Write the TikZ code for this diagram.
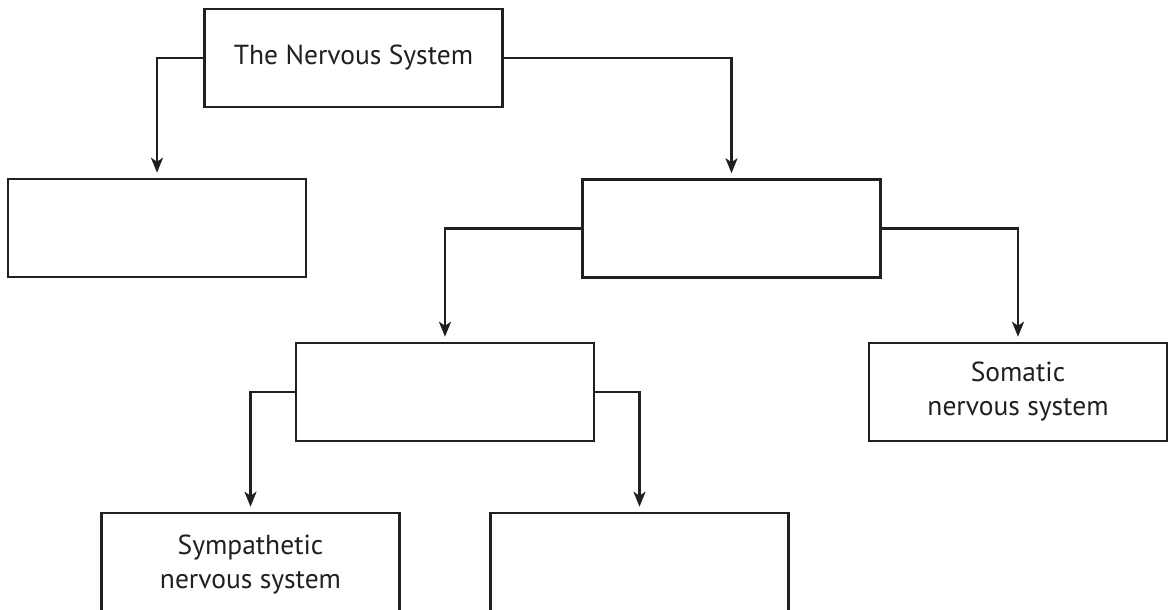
\documentclass[tikz,border=0pt]{standalone}
\usepackage{fontspec}
\setmainfont{PT Sans}
\usetikzlibrary{arrows.meta}
\definecolor{ink}{HTML}{231F20}
\begin{document}
\begin{tikzpicture}[x=1pt,y=-1pt,
  box/.style={draw=ink,line width=2.5pt,minimum width=298pt,minimum height=98pt,inner sep=0pt,
    align=center,text=ink,font=\fontsize{27.5}{34}\selectfont},
  conn/.style={draw=ink,line width=2.4pt,-{Stealth[length=15pt,width=12pt,inset=4pt]},shorten >=5pt}]
\useasboundingbox (0,0) rectangle (1170,610);
\clip (0,0) rectangle (1170,610);
\node[box] (T) at (353.5,58) {The Nervous System};
\node[box] (L) at (157,228) {};
\node[box] (M) at (731.5,228.5) {};
\node[box] (ML) at (445,392) {};
\node[box] (S) at (1018,392) {Somatic\\nervous system};
\node[box,minimum height=104pt] (Sy) at (250.5,565) {};
\node[box,minimum height=104pt] (BR) at (639.5,565) {};
\node[align=center,text=ink,font=\fontsize{27.5}{34}\selectfont,anchor=north] (SyT) at (250.5,531) {Sympathetic\\nervous system};
\draw[conn] (T.west) -| (L.north);
\draw[conn] (T.east) -| (M.north);
\draw[conn] (M.west) -| (ML.north);
\draw[conn] (M.east) -| (S.north);
\draw[conn] (ML.west) -| (Sy.north);
\draw[conn] (ML.east) -| (BR.north);
\end{tikzpicture}
\end{document}
